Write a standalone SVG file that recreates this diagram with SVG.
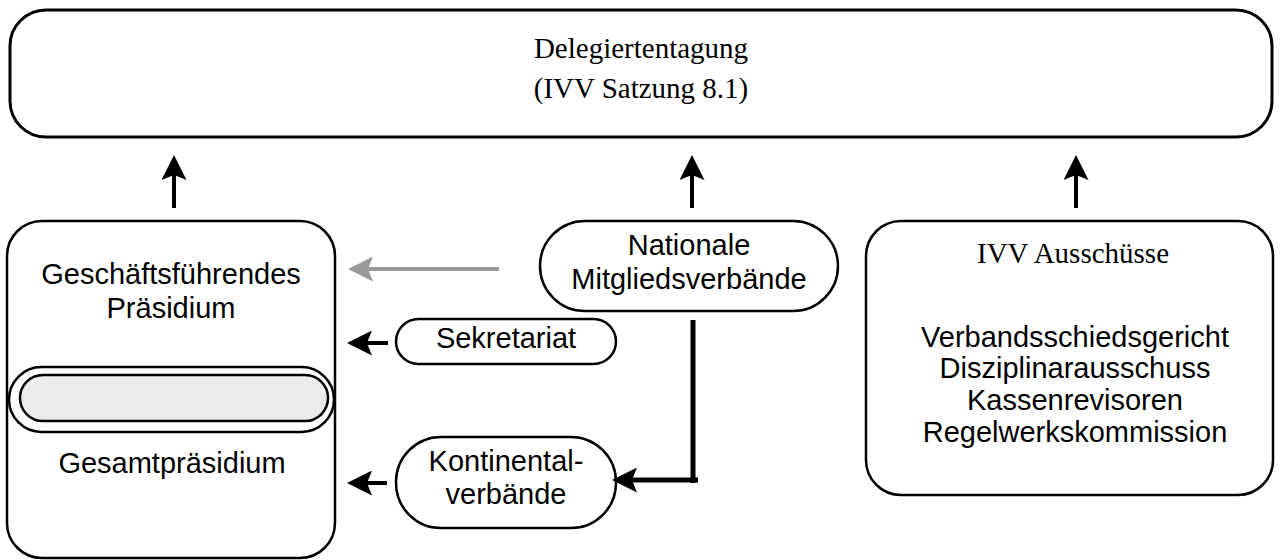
<svg xmlns="http://www.w3.org/2000/svg" width="1283" height="560" viewBox="0 0 1283 560">
<defs>
<style>
.box{fill:#fff;stroke:#000;stroke-width:2.5}
.sans{font-family:"Liberation Sans",Arial,sans-serif;font-size:29px;text-anchor:middle;fill:#000}
.serif{font-family:"Liberation Serif","Times New Roman",serif;font-size:29px;text-anchor:middle;fill:#000}
.conn{stroke:#000;stroke-width:4;fill:none}
.gray{stroke:#999;stroke-width:4;fill:none}
</style>
<marker id="ah" viewBox="0 0 25 25" markerWidth="25" markerHeight="25" refX="5" refY="12.5" orient="auto" markerUnits="userSpaceOnUse">
<path d="M0,0 L25,12.5 L0,25 L5,12.5 Z" fill="#000"/>
</marker>
<marker id="ahg" viewBox="0 0 25 25" markerWidth="25" markerHeight="25" refX="5" refY="12.5" orient="auto" markerUnits="userSpaceOnUse">
<path d="M0,0 L25,12.5 L0,25 L5,12.5 Z" fill="#999"/>
</marker>
</defs>
<rect width="1283" height="560" fill="#fff"/>

<g id="delegiertentagung">
<rect class="box" x="10" y="10" width="1262" height="127" rx="36" style="stroke-width:3"/>
<text class="serif" x="641" y="58">Delegiertentagung</text>
<text class="serif" x="641" y="98">(IVV Satzung 8.1)</text>
</g>

<g id="praesidium">
<rect class="box" x="7" y="221" width="328" height="337" rx="35"/>
<text class="sans" x="171" y="284">Geschäftsführendes</text>
<text class="sans" x="171" y="318">Präsidium</text>
<rect class="box" x="9" y="367" width="325" height="65" rx="32.5"/>
<rect class="box" x="20" y="375" width="308" height="46" rx="23" style="fill:#ebebeb"/>
<text class="sans" x="172" y="473">Gesamtpräsidium</text>
</g>

<g id="nationale">
<rect class="box" x="540" y="221" width="298" height="90" rx="45"/>
<text class="sans" x="689" y="255">Nationale</text>
<text class="sans" x="689" y="289">Mitgliedsverbände</text>
</g>

<g id="sekretariat">
<rect class="box" x="396" y="319" width="220" height="45" rx="22.5"/>
<text class="sans" x="506" y="348">Sekretariat</text>
</g>

<g id="kontinental">
<rect class="box" x="396" y="437" width="220" height="91" rx="45"/>
<text class="sans" x="506" y="471">Kontinental-</text>
<text class="sans" x="506" y="504">verbände</text>
</g>

<g id="ausschuesse">
<rect class="box" x="866" y="221" width="407" height="274" rx="35"/>
<text class="serif" x="1073" y="263">IVV Ausschüsse</text>
<text class="sans" x="1075" y="347">Verbandsschiedsgericht</text>
<text class="sans" x="1075" y="378">Disziplinarausschuss</text>
<text class="sans" x="1075" y="410">Kassenrevisoren</text>
<text class="sans" x="1075" y="442">Regelwerkskommission</text>
</g>

<g id="connectors">
<line class="conn" x1="174" y1="208" x2="174" y2="175" marker-end="url(#ah)"/>
<line class="conn" x1="692" y1="208" x2="692" y2="175" marker-end="url(#ah)"/>
<line class="conn" x1="1076" y1="208" x2="1076" y2="175" marker-end="url(#ah)"/>
<line class="gray" x1="499" y1="269" x2="368" y2="269" marker-end="url(#ahg)"/>
<line class="conn" x1="388" y1="343" x2="367" y2="343" marker-end="url(#ah)"/>
<line class="conn" x1="387" y1="483" x2="367" y2="483" marker-end="url(#ah)"/>
<line class="conn" x1="693" y1="320" x2="693" y2="483" style="stroke-width:5"/>
<line class="conn" x1="698" y1="480" x2="632" y2="480" style="stroke-width:5" marker-end="url(#ah)"/>
</g>
</svg>
